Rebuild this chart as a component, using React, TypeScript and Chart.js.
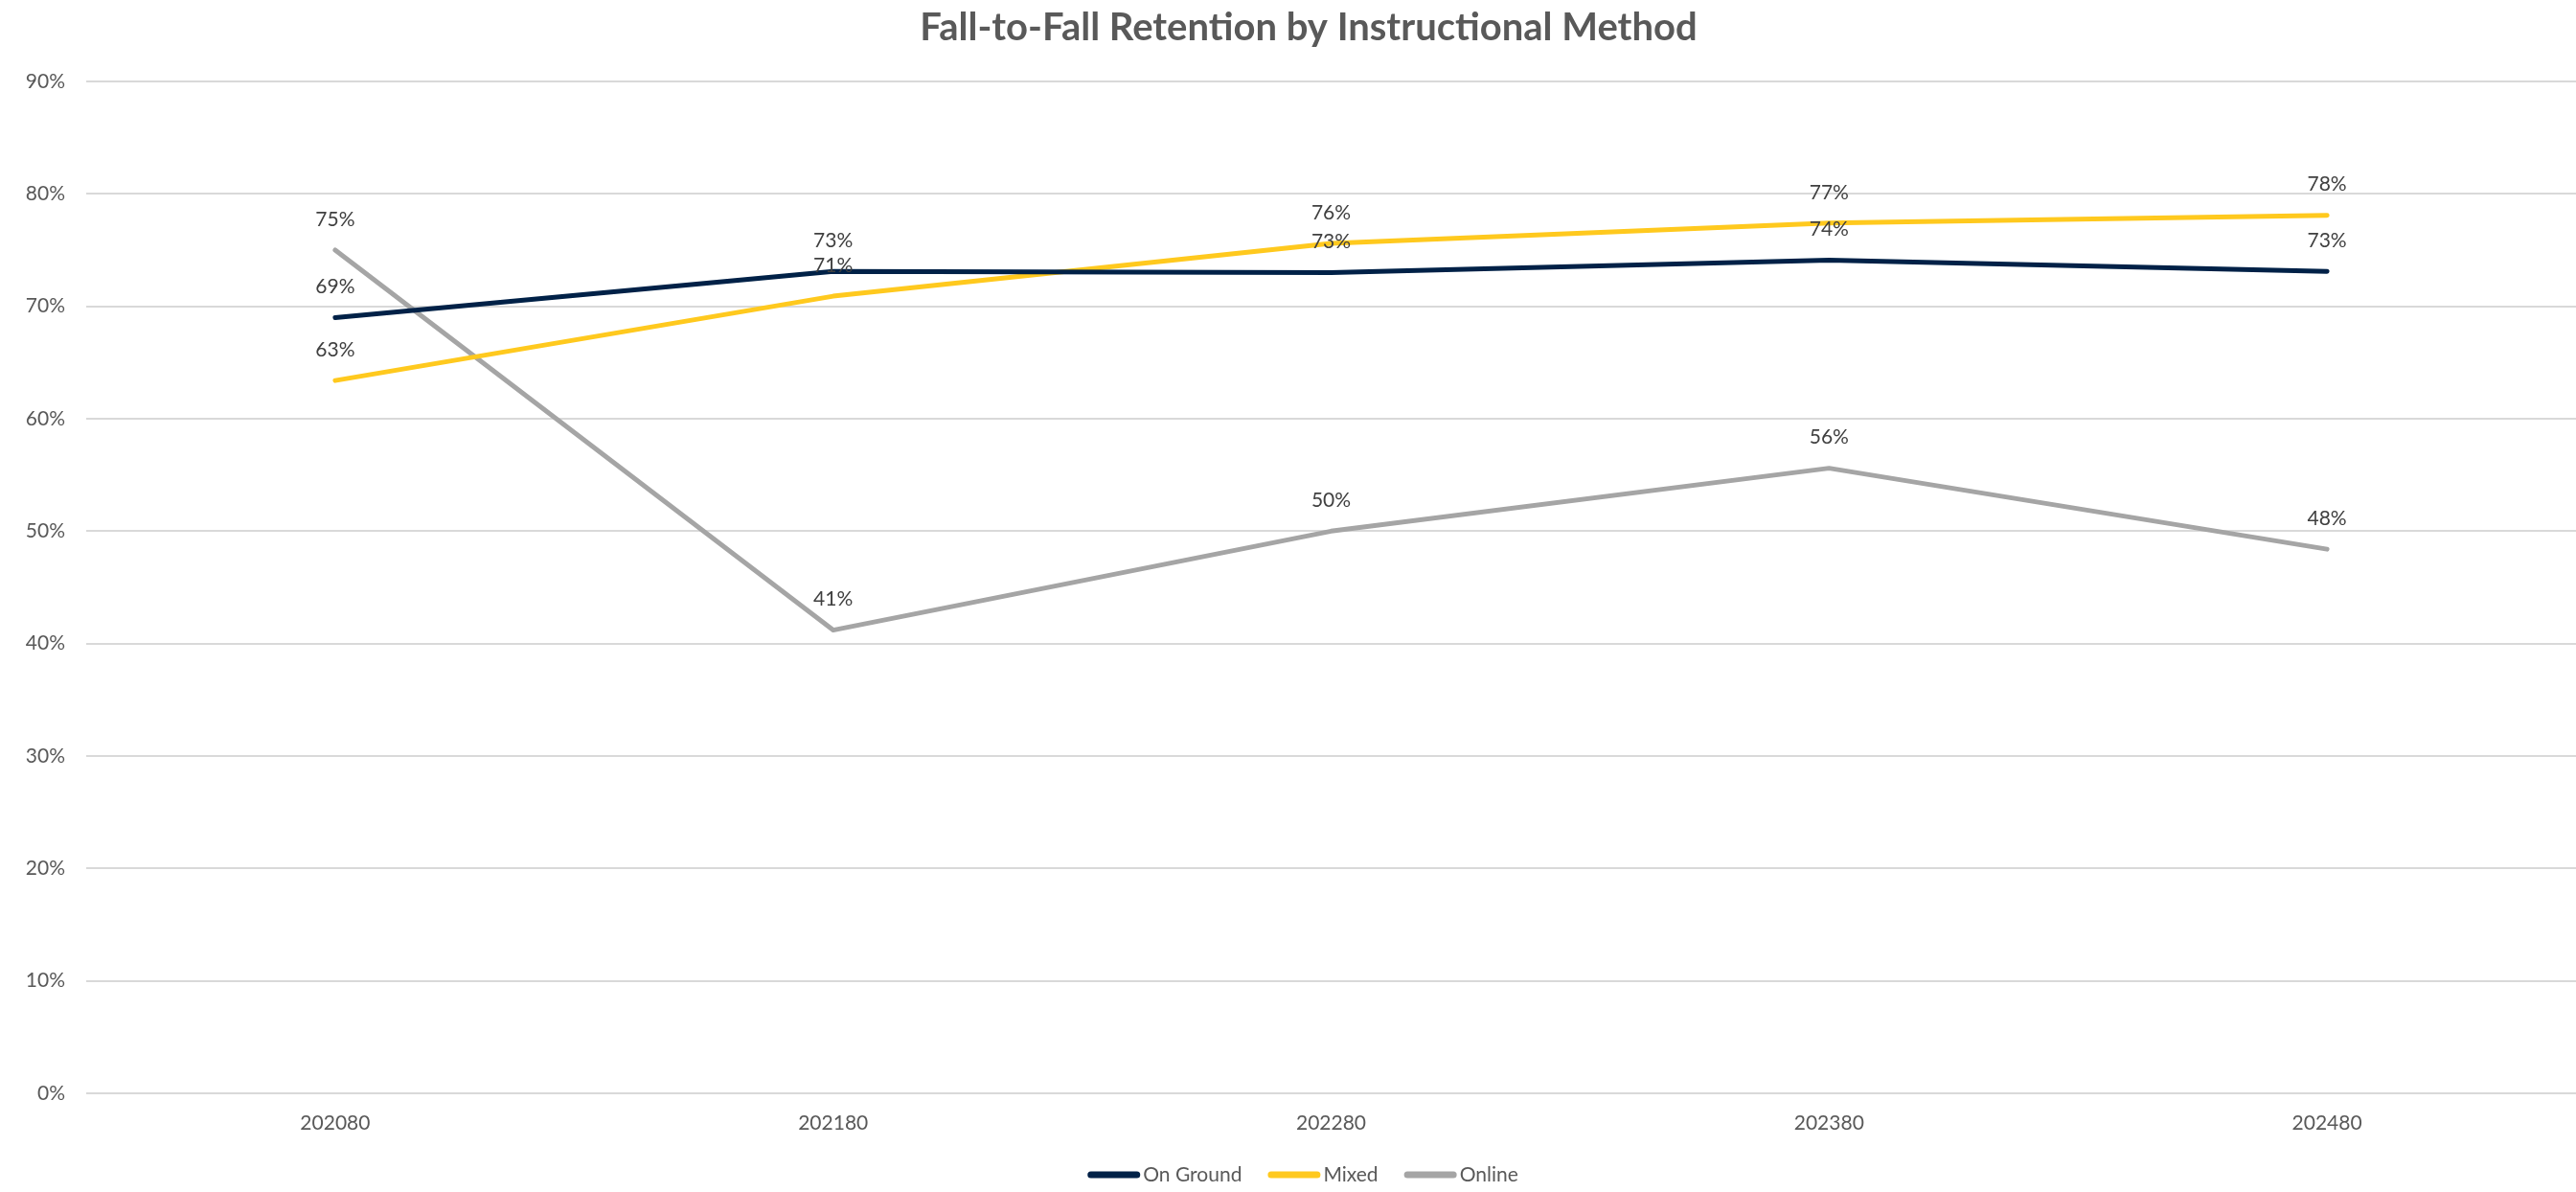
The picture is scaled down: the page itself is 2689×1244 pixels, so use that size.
import React, { useEffect, useRef } from "react";
import { Chart, registerables } from "chart.js";

Chart.register(...registerables);

const categories = ["202080", "202180", "202280", "202380", "202480"];
const onGround = [69.0, 73.1, 73.0, 74.1, 73.1];
const mixed = [63.4, 70.9, 75.6, 77.4, 78.1];
const online = [75.0, 41.2, 50.0, 55.6, 48.4];
const seriesNames = ["On Ground", "Mixed", "Online"];
const seriesColors = ["#002147", "#FFC91E", "#A5A5A5"];
const titleText = "Fall-to-Fall Retention by Instructional Method";
const yTicksMax = 90;
const yTickStep = 10;

const FONT = "Lato, 'Noto Sans', sans-serif";

const dataLabelPlugin = {
  id: "dataLabelsInline",
  afterDatasetsDraw(chart: any) {
    const ctx = chart.ctx;
    ctx.save();
    ctx.font = `21px ${FONT}`;
    ctx.fillStyle = "#404040";
    ctx.textAlign = "center";
    ctx.textBaseline = "middle";
    chart.data.datasets.forEach((ds: any, i: number) => {
      const meta = chart.getDatasetMeta(i);
      meta.data.forEach((pt: any, j: number) => {
        ctx.fillText(Math.round(ds.data[j]) + "%", pt.x, pt.y - 32);
      });
    });
    ctx.restore();
  },
};

const titleLegendPlugin = {
  id: "titleLegendInline",
  afterDraw(chart: any) {
    const ctx = chart.ctx;
    ctx.save();
    // title
    ctx.font = `bold 40px ${FONT}`;
    ctx.fillStyle = "#595959";
    ctx.textAlign = "center";
    ctx.textBaseline = "alphabetic";
    ctx.fillText(titleText, 1366, 42);
    // legend
    ctx.font = `21px ${FONT}`;
    const boxW = 55;
    const boxH = 7;
    const boxGap = 3;
    const itemGap = 27;
    const items = chart.data.datasets.map((ds: any) => ({
      text: ds.label,
      color: ds.borderColor,
      w: boxW + boxGap + ctx.measureText(ds.label).width,
    }));
    const total = items.reduce((a: number, it: any) => a + it.w, 0) + itemGap * (items.length - 1);
    let x = 1360 - total / 2;
    const cy = 1226;
    ctx.textAlign = "left";
    ctx.textBaseline = "middle";
    items.forEach((it: any) => {
      ctx.strokeStyle = it.color;
      ctx.lineWidth = boxH;
      ctx.lineCap = "round";
      ctx.beginPath();
      ctx.moveTo(x + boxH / 2, cy);
      ctx.lineTo(x + boxW - boxH / 2, cy);
      ctx.stroke();
      ctx.fillStyle = "#595959";
      ctx.fillText(it.text, x + boxW + boxGap, cy);
      x += it.w + itemGap;
    });
    ctx.restore();
  },
};

export default function App() {
  const ref = useRef<HTMLCanvasElement | null>(null);
  useEffect(() => {
    if (!ref.current) return;
    const data = [onGround, mixed, online];
    const chart = new Chart(ref.current, {
      type: "line",
      data: {
        labels: categories,
        datasets: seriesNames.map((name, i) => ({
          label: name,
          data: data[i],
          borderColor: seriesColors[i],
          backgroundColor: seriesColors[i],
          borderWidth: 5,
          pointRadius: 0,
          tension: 0,
          borderCapStyle: "round" as const,
          borderJoinStyle: "round" as const,
        })),
      },
      options: {
        responsive: false,
        animation: false,
        layout: { padding: { left: 0, right: 0, top: 85, bottom: 45 } },
        plugins: {
          title: { display: false },
          legend: { display: false },
          tooltip: { enabled: false },
        },
        scales: {
          x: {
            offset: true,
            grid: { display: false, drawTicks: false, tickLength: 0 },
            border: { display: false },
            ticks: { color: "#595959", font: { family: FONT, size: 21 }, padding: 19 },
            afterFit: (s: any) => {
              s.height = 58;
            },
          },
          y: {
            min: 0,
            max: yTicksMax,
            grid: { color: "#D9D9D9", lineWidth: 2, drawTicks: false, tickLength: 0 },
            border: { display: false },
            ticks: {
              stepSize: yTickStep,
              color: "#595959",
              font: { family: FONT, size: 21 },
              padding: 22,
              callback: (v: any) => v + "%",
            },
            afterFit: (s: any) => {
              s.width = 90;
            },
          },
        },
      },
      plugins: [dataLabelPlugin, titleLegendPlugin],
    });
    return () => chart.destroy();
  }, []);
  return (
    <div style={{ position: "fixed", left: 0, top: 0, width: 2689, height: 1244, background: "#fff" }}>
      <canvas ref={ref} width={2689} height={1244} style={{ display: "block" }} />
    </div>
  );
}
